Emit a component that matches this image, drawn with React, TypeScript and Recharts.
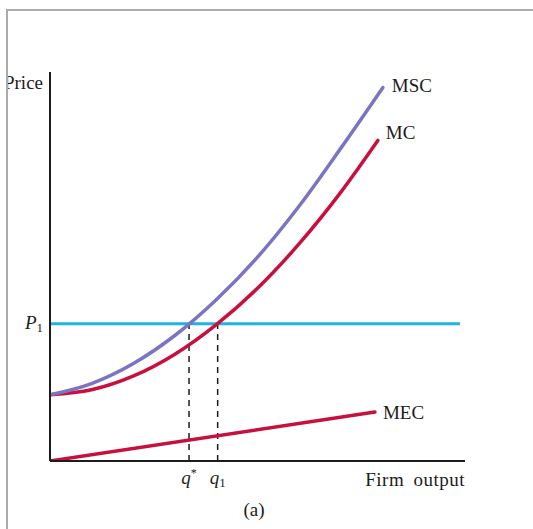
import React from 'react';
import { LineChart, Line, XAxis, YAxis, ReferenceLine, ReferenceDot, Label } from 'recharts';

// values (output 0-100, price 0-100)
const mcOutput = [0, 10, 20, 30, 40, 50, 60, 70, 79];
const mcPrice = [17, 18.3, 21.8, 27.4, 35.0, 44.4, 55.8, 69.0, 82.4];
const mscOutput = [0, 10, 20, 30, 40, 50, 60, 70, 80.2];
const mscPrice = [17, 19.9, 25.0, 32.2, 41.4, 52.4, 65.5, 80.3, 96];
const mecOutput = [0, 78.3];
const mecPrice = [0, 12.6];
const priceP1 = 35.3;
const qStar = 33.5;
const q1 = 40.4;
const p1End = 98.8;

const toPoints = (xs: number[], ys: number[]) => xs.map((x, i) => ({ x, y: ys[i] }));
const mcData = toPoints(mcOutput, mcPrice);
const mscData = toPoints(mscOutput, mscPrice);
const mecData = toPoints(mecOutput, mecPrice);

const FONT = '"Liberation Serif", "DejaVu Serif", serif';
const INK = '#1c1c1c';
const RED = '#c8103e';
const PURPLE = '#7a74c2';
const BLUE = '#1fb3e5';

const TextTag = (props: any) => {
  const { viewBox, text, dx = 0, dy = 0, anchor = 'start', style } = props;
  if (!viewBox) return null;
  return (
    <text x={viewBox.x + dx} y={viewBox.y + dy} textAnchor={anchor} fontFamily={FONT} fontSize={19} fill={INK} style={style}>
      {text}
    </text>
  );
};

const QTick = (props: any) => {
  const { x, y, payload } = props;
  const star = Math.abs(payload.value - qStar) < 0.01;
  return (
    <text x={x} y={y + 23} textAnchor="middle" fontFamily={FONT} fontSize={19} fill={INK}>
      <tspan fontStyle="italic">q</tspan>
      {star ? <tspan dy={-7} fontSize={12}>*</tspan> : <tspan dy={3} fontSize={13}>1</tspan>}
    </text>
  );
};

const PTick = (props: any) => {
  const { x, y } = props;
  return (
    <text x={x - 7} y={y + 5} textAnchor="end" fontFamily={FONT} fontSize={19} fill={INK}>
      <tspan fontStyle="italic">P</tspan>
      <tspan dy={3} fontSize={13}>1</tspan>
    </text>
  );
};

export default function App() {
  return (
    <div style={{ position: 'absolute', left: 0, top: 0, width: 533, height: 529, background: '#fff', overflow: 'hidden' }}>
      <LineChart width={533} height={529} margin={{ top: 72, right: 68, left: 0, bottom: 0 }} style={{ fontFamily: FONT }}>
        <XAxis
          type="number"
          dataKey="x"
          domain={[0, 100]}
          ticks={[qStar, q1]}
          interval={0}
          tick={<QTick />}
          tickLine={false}
          tickSize={0}
          tickMargin={0}
          height={68}
          axisLine={{ stroke: INK, strokeWidth: 2 }}
          allowDataOverflow
        >
          <Label content={<TextTag text="(a)" dx={204} dy={55} anchor="middle" />} position="insideBottom" />
        </XAxis>
        <YAxis
          type="number"
          dataKey="y"
          domain={[0, 100]}
          ticks={[priceP1]}
          interval={0}
          tick={<PTick />}
          tickLine={false}
          tickSize={0}
          tickMargin={0}
          width={50}
          axisLine={{ stroke: INK, strokeWidth: 2 }}
          allowDataOverflow
        />
        <ReferenceLine
          segment={[{ x: qStar, y: 0 }, { x: qStar, y: priceP1 }]}
          stroke={INK}
          strokeWidth={1.5}
          strokeDasharray="6 5"
        />
        <ReferenceLine
          segment={[{ x: q1, y: 0 }, { x: q1, y: priceP1 }]}
          stroke={INK}
          strokeWidth={1.5}
          strokeDasharray="6 5"
        />
        <ReferenceLine segment={[{ x: 0, y: priceP1 }, { x: p1End, y: priceP1 }]} stroke={BLUE} strokeWidth={3} />
        <Line data={mecData} dataKey="y" type="linear" stroke={RED} strokeWidth={3.5} dot={false} isAnimationActive={false} strokeLinecap="round" />
        <Line data={mcData} dataKey="y" type="monotone" stroke={RED} strokeWidth={3.5} dot={false} isAnimationActive={false} strokeLinecap="round" />
        <Line data={mscData} dataKey="y" type="monotone" stroke={PURPLE} strokeWidth={3.5} dot={false} isAnimationActive={false} strokeLinecap="round" />
        <ReferenceDot x={80.2} y={96} r={0} label={<TextTag text="MSC" dx={9} dy={4} />} />
        <ReferenceDot x={79} y={82.4} r={0} label={<TextTag text="MC" dx={8} dy={-1} />} />
        <ReferenceDot x={78.3} y={12.6} r={0} label={<TextTag text="MEC" dx={8} dy={7} />} />
        <ReferenceDot
          x={100}
          y={0}
          r={0}
          label={<TextTag text="Firm output" dx={0} dy={25} anchor="end" style={{ wordSpacing: 4, letterSpacing: 0.5 }} />}
        />
        <ReferenceDot x={0} y={100} r={0} label={<TextTag text="Price" dx={-7} dy={17} anchor="end" />} />
      </LineChart>
      <div style={{ position: 'absolute', left: 0, top: 0, width: 6, height: 529, background: '#fff', borderRight: '2px solid #ababab' }} />
      <div style={{ position: 'absolute', left: 6, top: 0, width: 527, height: 9, background: '#fff', borderBottom: '2px solid #ababab' }} />
    </div>
  );
}
